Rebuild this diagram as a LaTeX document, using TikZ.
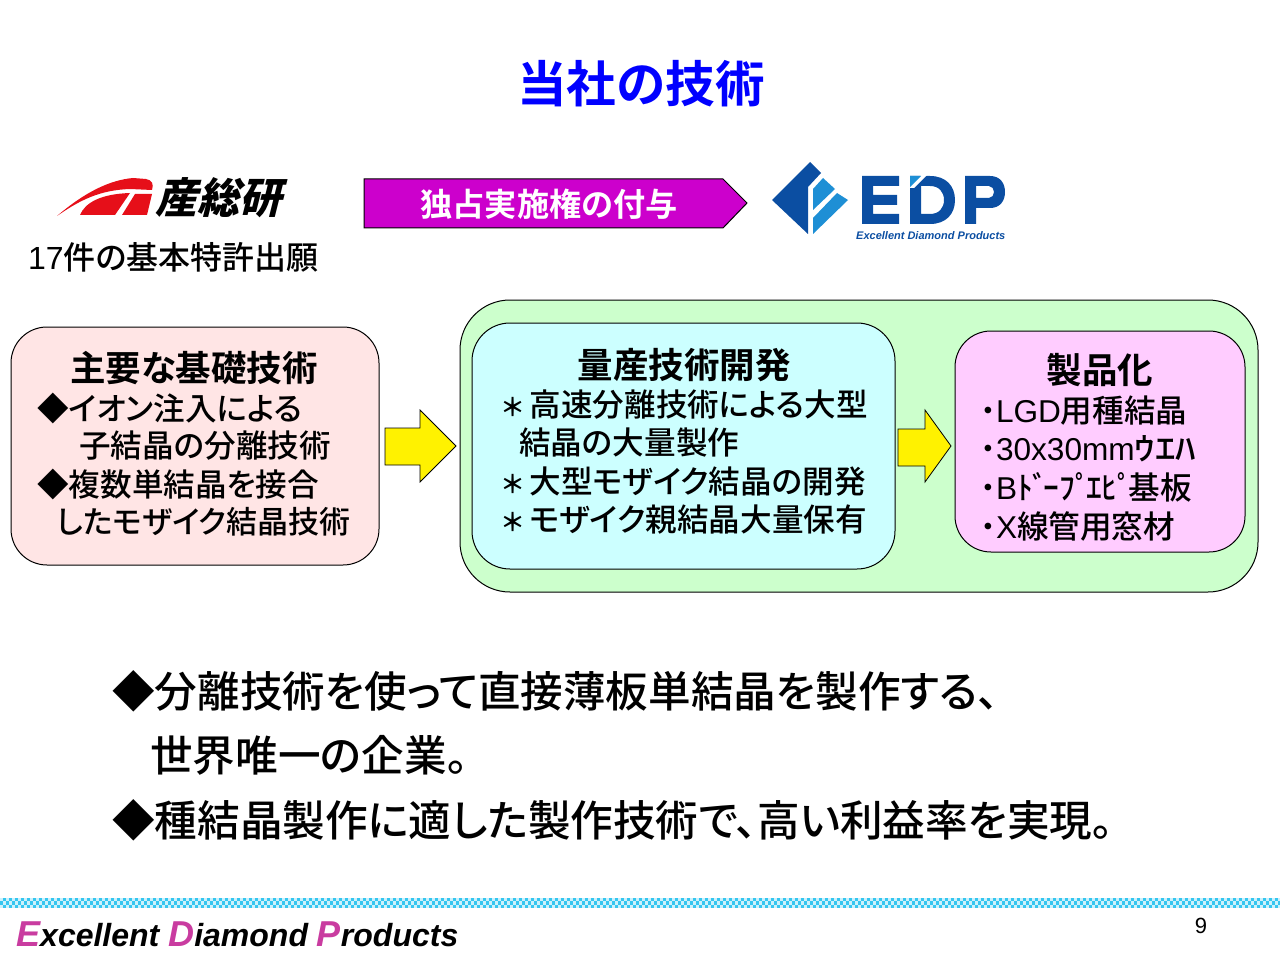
\documentclass[tikz,border=0pt]{standalone}
\usepackage{fontspec}
\setmainfont{Liberation Sans}
\newfontfamily\jp[RawFeature=+palt]{Noto Sans CJK JP Medium}
\newfontfamily\jpw{Noto Sans CJK JP Medium}
\newfontfamily\jpb[RawFeature=+palt]{Noto Sans CJK JP Bold}
\newfontfamily\jpk[RawFeature=+palt]{Noto Sans CJK JP Black}
\definecolor{edpblue}{HTML}{0B4EA2}
\definecolor{edplight}{HTML}{1E8FD5}
\definecolor{edppink}{HTML}{C93CA0}
\definecolor{aistred}{HTML}{E60F19}
\definecolor{boxpink}{HTML}{FFE5E5}
\definecolor{boxgreen}{HTML}{CCFFCC}
\definecolor{boxcyan}{HTML}{CCFFFF}
\definecolor{boxviolet}{HTML}{FFCCFF}
\definecolor{bannerpurple}{HTML}{CC00CC}
\definecolor{stripblue}{HTML}{35C6F0}
\newcommand{\starmark}{{\jpb\fontsize{25}{25}\selectfont ＊}\hspace{6pt}}
\newcommand{\dotmark}{{\jpk ･}}
\tikzset{
  line/.style={anchor=west,inner sep=0pt,font=\jp\fontsize{31.6}{32}\selectfont},
  head/.style={anchor=center,inner sep=0pt,font=\jpb\fontsize{35.5}{36}\selectfont},
  big/.style={anchor=west,inner sep=0pt,font=\jp\fontsize{42.6}{43}\selectfont},
  panel/.style={draw=black,line width=1pt},
  yarrow/.style={draw=black,line width=0.8pt,fill=yellow}
}
\begin{document}
\begin{tikzpicture}[x=1pt,y=-1pt]
\useasboundingbox (0,0) rectangle (1280,960);
\node[head,text=blue,font=\jpb\fontsize{49.6}{50}\selectfont] (title) at (641,84) {当社の技術};
% aist logo
\fill[aistred] (57,216) .. controls (85,192) and (110,180) .. (133,178) -- (146,179) .. controls (152,180) and (154,184) .. (152,190) -- (130,189) .. controls (100,190) and (80,200) .. cycle;
\fill[aistred] (80,215) .. controls (85,203) and (100,194) .. (130,193) -- (115,215) -- cycle;
\fill[aistred] (135,194) -- (152,194) -- (147,215) -- (122,215) -- cycle;
\node[head,xslant=0.25,font=\jpk\fontsize{42}{42}\selectfont] (aist) at (222,198) {産総研};
\node[line,font=\jp\fontsize{32}{32}\selectfont] (patent) at (28,257) {{\rmfamily 17}件の基本特許出願};
% banner
\draw[line width=1pt,fill=bannerpurple] (364,179) -- (723,179) -- (747,203) -- (723,228) -- (364,228) -- cycle;
\node[head,text=white,font=\jpb\fontsize{32.2}{33}\selectfont] (grant) at (549,204) {独占実施権の付与};
% edp logo
\fill[edpblue] (810,162) -- (821,173) -- (808,187) -- (808,234) -- (772,200) -- cycle;
\fill[edplight] (823,178) -- (835,189) -- (813,210) -- (813,189) -- cycle;
\fill[edplight] (837,193) -- (848,200) -- (813,234) -- (813,218) -- cycle;
\fill[edpblue] (862,176) -- (899,176) -- (899,186) -- (873,186) -- (873,195) -- (897,195) -- (897,205) -- (873,205) -- (873,214) -- (899,214) -- (899,224) -- (862,224) -- cycle;
\fill[edpblue,even odd rule] (910,176) -- (930,176) .. controls (946,176) and (955,186) .. (955,200) .. controls (955,214) and (946,224) .. (930,224) -- (910,224) -- cycle (921,186) -- (921,214) -- (930,214) .. controls (939,214) and (944,208) .. (944,200) .. controls (944,192) and (939,186) .. (930,186) -- cycle;
\fill[white] (908,188) -- (922,174) -- (928,174) -- (914,188) -- cycle;
\fill[edplight] (910,176) -- (921,176) -- (910,187) -- cycle;
\fill[edpblue,even odd rule] (965,176) -- (990,176) .. controls (1000,176) and (1005,183) .. (1005,192) .. controls (1005,201) and (1000,208) .. (990,208) -- (976,208) -- (976,224) -- (965,224) -- cycle (976,186) -- (976,198) -- (989,198) .. controls (992,198) and (994,195) .. (994,192) .. controls (994,189) and (992,186) .. (989,186) -- cycle;
\node[anchor=west,inner sep=0pt,text=edpblue,font=\bfseries\itshape\fontsize{11}{11}\selectfont] (edpname) at (856,236) {Excellent Diamond Products};
% boxes
\draw[panel,fill=boxpink,rounded corners=36pt] (11,327) rectangle (379,565);
\draw[panel,fill=boxgreen,rounded corners=50pt] (460,300) rectangle (1258,592);
\draw[panel,fill=boxcyan,rounded corners=38pt] (472,323) rectangle (895,569);
\draw[panel,fill=boxviolet,rounded corners=36pt] (955,331) rectangle (1245,552);
\draw[yarrow] (385,428) -- (420,428) -- (420,410) -- (456,446) -- (420,482) -- (420,465) -- (385,465) -- cycle;
\draw[yarrow] (898,429) -- (925,429) -- (925,410) -- (951,446) -- (925,482) -- (925,466) -- (898,466) -- cycle;
% left box
\node[head] (basic) at (194,368) {主要な基礎技術};
\node[line] (basica) at (37,408) {◆イオン注入による};
\node[line] (basicb) at (79,446) {子結晶の分離技術};
\node[line] (basicc) at (37,484) {◆複数単結晶を接合};
\node[line,font=\jp\fontsize{31}{32}\selectfont] (basicd) at (57,522) {したモザイク結晶技術};
% middle box
\node[head] (mass) at (684,365) {量産技術開発};
\node[line] (massa) at (503,405) {\starmark 高速分離技術による大型};
\node[line] (massb) at (519,443) {結晶の大量製作};
\node[line] (massc) at (503,482) {\starmark 大型モザイク結晶の開発};
\node[line] (massd) at (503,520) {\starmark モザイク親結晶大量保有};
% right box
\node[head] (prod) at (1100,370) {製品化};
\node[line] (proda) at (980,411) {\dotmark{\rmfamily LGD}用種結晶};
\node[line] (prodb) at (980,449) {\dotmark{\rmfamily 30x30mm}\scalebox{1.3}[1]{\jpw ｳｴﾊ}};
\node[line] (prodc) at (980,487) {\dotmark{\rmfamily B}{\jpw ﾄﾞ\hspace{-5pt}ｰﾌﾟ\hspace{-5pt}ｴﾋﾟ\hspace{-5pt}}基板};
\node[line] (prodd) at (980,526) {\dotmark{\rmfamily X}線管用窓材};
% bottom text
\node[big] (textone) at (112,691) {◆分離技術を使って直接薄板単結晶を製作する、};
\node[big] (texttwo) at (150,755) {世界唯一の企業。};
\node[big] (textthree) at (112,820) {◆種結晶製作に適した製作技術で、高い利益率を実現。};
% footer
\fill[stripblue] (0,898) rectangle (1280,908);
\foreach \i in {0,...,213} {
  \fill[white!75!stripblue] (\i*6,898) rectangle +(3,3.3);
  \fill[white!75!stripblue] (\i*6+3,901.3) rectangle +(3,3.3);
  \fill[white!75!stripblue] (\i*6,904.6) rectangle +(3,3.3);
}
\node[anchor=west,inner sep=0pt,font=\bfseries\itshape\fontsize{32}{32}\selectfont] (company) at (16,934) {\textcolor{edppink}{\fontsize{36}{36}\selectfont E}xcellent \textcolor{edppink}{\fontsize{36}{36}\selectfont D}iamond \textcolor{edppink}{\fontsize{36}{36}\selectfont P}roducts};
\node[inner sep=0pt,font=\fontsize{22}{22}\selectfont] (pageno) at (1201,926) {9};
\end{tikzpicture}
\end{document}
